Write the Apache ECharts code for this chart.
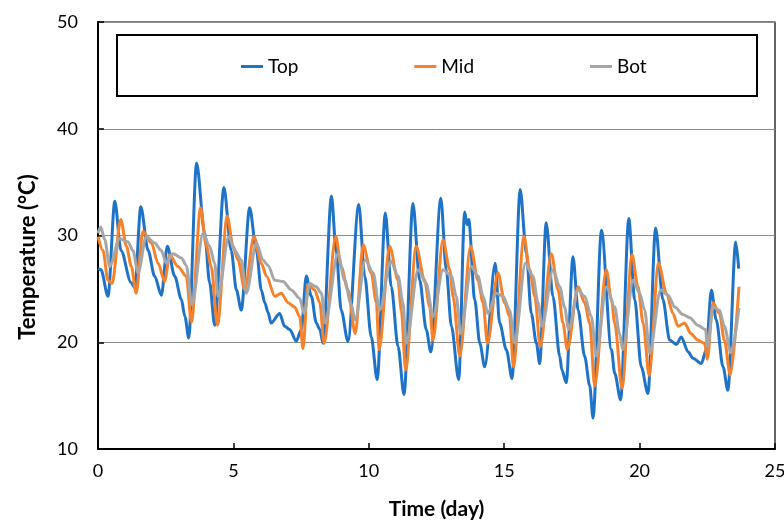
<!DOCTYPE html>
<html>
<head>
<meta charset="utf-8">
<script src="https://cdn.jsdelivr.net/npm/echarts@6/dist/echarts.min.js"></script>
<style>
html, body { margin: 0; padding: 0; background: #fff; }
#echa1 { width: 784px; height: 522px; }
</style>
</head>
<body>
<div id="echa1"></div>
<script>
// readings: time (day) and temperature (°C)
var topDay = [0, 0.11, 0.37, 0.62, 0.85, 1.22, 1.36, 1.58, 1.85, 2.09, 2.34, 2.56, 2.83, 3.08, 3.21, 3.35, 3.64, 3.94, 4.12, 4.31,
  4.65, 4.92, 5.11, 5.29, 5.6, 5.85, 6.03, 6.16, 6.28, 6.39, 6.71, 6.89, 7.08, 7.32, 7.51, 7.69, 7.88, 8.06, 8.19, 8.31,
  8.62, 8.8, 8.98, 9.23, 9.63, 9.85, 10.09, 10.31, 10.61, 10.83, 11.08, 11.3, 11.63, 11.88, 12.12, 12.29, 12.66, 12.86, 13.05, 13.32,
  13.54, 13.63, 13.69, 13.91, 14.1, 14.28, 14.67, 14.83, 15.08, 15.29, 15.59, 15.82, 16.0, 16.19, 16.31, 16.55, 16.8, 17.05, 17.13, 17.29,
  17.54, 17.73, 17.97, 18.16, 18.28, 18.59, 18.96, 19.08, 19.3, 19.6, 19.82, 20.06, 20.31, 20.59, 20.86, 21.11, 21.36, 21.54, 21.79, 21.97,
  22.28, 22.46, 22.65, 22.83, 23.08, 23.26, 23.55, 23.66];
var topTemp = [26.9, 26.8, 24.3, 33.2, 28.6, 25.6, 25.1, 32.7, 28.6, 26.2, 24.4, 29.0, 26.2, 24.0, 22.4, 20.4, 36.8, 30.2, 25.6, 21.6,
  34.5, 28.6, 24.9, 23.0, 32.6, 28.6, 24.9, 23.7, 22.8, 21.8, 22.7, 21.5, 21.2, 20.1, 21.2, 26.2, 24.3, 21.8, 21.2, 19.9,
  33.7, 28.4, 23.0, 20.1, 32.9, 26.2, 20.5, 16.5, 32.1, 25.2, 19.6, 15.1, 33.0, 25.8, 21.2, 19.1, 33.5, 26.8, 21.5, 16.5,
  32.2, 31.0, 31.5, 24.0, 19.9, 17.7, 27.4, 21.8, 19.3, 16.6, 34.3, 28.3, 22.7, 19.9, 18.0, 31.2, 24.3, 18.7, 17.4, 16.2,
  28.0, 23.0, 18.7, 15.9, 12.9, 30.5, 19.3, 17.1, 14.6, 31.6, 24.0, 17.7, 15.2, 30.7, 24.0, 20.2, 19.8, 20.5, 19.1, 18.5,
  18.0, 19.3, 24.9, 22.1, 17.7, 15.5, 29.4, 26.9];

var midDay = [0, 0.18, 0.37, 0.52, 0.84, 1.05, 1.23, 1.41, 1.66, 1.97, 2.22, 2.46, 2.65, 2.95, 3.26, 3.45, 3.79, 4.0, 4.18, 4.41,
  4.77, 4.99, 5.17, 5.42, 5.76, 6.03, 6.22, 6.53, 6.77, 7.02, 7.26, 7.45, 7.57, 7.75, 8.0, 8.19, 8.35, 8.78, 8.98, 9.23,
  9.5, 9.79, 10.09, 10.28, 10.38, 10.77, 11.08, 11.2, 11.36, 11.75, 12.06, 12.25, 12.37, 12.74, 12.99, 13.11, 13.36, 13.76, 14.03, 14.22,
  14.38, 14.77, 15.02, 15.2, 15.34, 15.73, 15.94, 16.13, 16.33, 16.74, 16.99, 17.17, 17.33, 17.73, 17.97, 18.16, 18.34, 18.77, 18.96, 19.08,
  19.35, 19.72, 19.94, 20.13, 20.35, 20.7, 20.99, 21.23, 21.42, 21.66, 21.9, 22.15, 22.4, 22.5, 22.71, 22.95, 23.13, 23.35, 23.67];
var midTemp = [29.9, 28.6, 25.8, 25.5, 31.5, 29.0, 27.1, 24.6, 30.4, 29.3, 27.4, 25.7, 28.2, 27.1, 26.2, 21.9, 32.6, 29.0, 27.1, 21.6,
  31.8, 29.0, 27.7, 24.9, 29.9, 27.4, 26.2, 24.3, 24.6, 23.7, 23.3, 22.4, 19.4, 25.4, 24.9, 23.7, 19.9, 29.9, 27.1, 24.9,
  20.8, 29.1, 26.5, 23.7, 19.3, 29.0, 25.8, 23.0, 17.4, 29.0, 25.8, 23.3, 20.2, 29.6, 26.8, 24.3, 18.7, 29.0, 25.8, 23.7,
  19.9, 26.5, 23.7, 22.4, 17.7, 29.9, 26.8, 24.3, 19.6, 28.3, 24.9, 21.8, 19.3, 25.2, 23.7, 21.8, 15.9, 26.8, 24.0, 21.8,
  15.7, 28.2, 25.2, 21.8, 16.9, 27.4, 24.6, 22.7, 21.5, 21.8, 20.8, 20.2, 19.9, 18.4, 23.7, 22.7, 20.2, 16.9, 25.2];

var botDay = [0, 0.1, 0.25, 0.43, 0.8, 1.11, 1.29, 1.48, 1.78, 2.09, 2.34, 2.52, 2.77, 3.08, 3.26, 3.47, 3.88, 4.12, 4.31, 4.43,
  4.83, 5.05, 5.29, 5.48, 5.85, 6.09, 6.28, 6.53, 6.83, 7.14, 7.45, 7.61, 7.82, 8.06, 8.25, 8.39, 8.86, 9.11, 9.33, 9.5,
  9.87, 10.16, 10.4, 10.81, 11.08, 11.26, 11.38, 11.82, 12.12, 12.37, 12.74, 13.05, 13.23, 13.39, 13.79, 14.03, 14.22, 14.4, 14.71, 14.96,
  15.2, 15.39, 15.78, 16.06, 16.25, 16.4, 16.8, 17.05, 17.23, 17.38, 17.73, 17.97, 18.22, 18.4, 18.77, 19.08, 19.26, 19.38, 19.76, 20.0,
  20.19, 20.37, 20.78, 21.05, 21.3, 21.6, 21.85, 22.15, 22.43, 22.51, 22.71, 22.95, 23.13, 23.37, 23.67];
var botTemp = [30.2, 30.8, 29.6, 27.1, 29.7, 29.4, 28.6, 26.5, 29.9, 29.3, 28.6, 27.4, 28.3, 27.9, 27.2, 23.5, 30.2, 29.0, 27.4, 24.3,
  29.9, 28.6, 27.7, 24.6, 29.3, 27.7, 27.2, 25.8, 25.7, 24.9, 24.1, 22.7, 25.5, 25.2, 24.6, 21.8, 28.3, 25.8, 23.7, 22.1,
  27.7, 26.5, 23.0, 27.6, 26.2, 23.7, 19.9, 26.8, 25.5, 22.4, 26.8, 26.2, 24.3, 20.8, 27.1, 26.2, 24.3, 22.7, 24.6, 24.3,
  23.0, 19.9, 27.4, 26.2, 23.7, 21.5, 26.8, 25.2, 23.3, 21.2, 24.9, 24.3, 22.4, 18.7, 25.2, 23.3, 20.8, 19.3, 25.8, 24.6,
  23.0, 19.0, 24.9, 24.4, 23.3, 22.6, 22.3, 21.6, 21.2, 19.6, 23.3, 23.0, 21.5, 19.0, 23.2];

var xTicks = [0, 5, 10, 15, 20, 25];
var yTicks = [10, 20, 30, 40, 50];

function pairs(days, temps) {
  return days.map(function (d, i) { return [d, temps[i]]; });
}

var dom = document.getElementById("echa1");
var myChart = echarts.init(dom);
var font = 'Lato, "Open Sans", sans-serif';

function lineSeries(name, color, days, temps) {
  return {
    name: name,
    type: 'line',
    showSymbol: false,
    smooth: 0.3,
    smoothMonotone: 'x',
    lineStyle: { color: color, width: 3 },
    itemStyle: { color: color },
    data: pairs(days, temps)
  };
}

var option = {
  animation: false,
  backgroundColor: '#fff',
  grid: {
    left: 98, right: 9, top: 22, bottom: 73,
    outerBoundsMode: 'none', containLabel: false,
    show: true, borderColor: '#000', borderWidth: 1.2
  },
  legend: {
    left: 236, top: 52,
    icon: 'rect', itemWidth: 22, itemHeight: 3, itemGap: 116,
    textStyle: { fontFamily: font, fontSize: 19, color: '#000' },
    data: ['Top', 'Mid', 'Bot']
  },
  graphic: [{
    type: 'rect',
    shape: { x: 117, y: 35, width: 640, height: 61 },
    style: { fill: 'rgba(0,0,0,0)', stroke: '#000', lineWidth: 2 },
    z: 10
  }, {
    type: 'text',
    x: 28, y: 257, rotation: Math.PI / 2,
    style: {
      text: 'Temperature (°C)', fontFamily: font, fontSize: 22, fontWeight: 'bold',
      fill: '#000', align: 'center', verticalAlign: 'middle'
    }
  }],
  xAxis: {
    type: 'value', min: xTicks[0], max: xTicks[xTicks.length - 1], interval: 5,
    name: 'Time (day)', nameLocation: 'middle', nameGap: 50,
    nameTextStyle: { fontFamily: font, fontSize: 21, fontWeight: 'bold', color: '#000' },
    axisLine: { lineStyle: { color: '#000', width: 2 } },
    axisTick: { inside: true, length: 6, lineStyle: { color: '#000', width: 1.5 } },
    axisLabel: { fontFamily: font, fontSize: 18, color: '#000', margin: 13 },
    splitLine: { show: false }
  },
  yAxis: {
    type: 'value', min: yTicks[0], max: yTicks[yTicks.length - 1], interval: 10,
    axisLine: { show: true, lineStyle: { color: '#000', width: 2 } },
    axisTick: { show: true, inside: true, length: 6, lineStyle: { color: '#000', width: 1.5 } },
    axisLabel: { fontFamily: font, fontSize: 18, color: '#000', margin: 20 },
    splitLine: { show: true, lineStyle: { color: '#8c8c8c', width: 1 } }
  },
  series: [
    lineSeries('Top', '#1f73c6', topDay, topTemp),
    lineSeries('Mid', '#f7812b', midDay, midTemp),
    lineSeries('Bot', '#a6a6a6', botDay, botTemp)
  ]
};

myChart.setOption(option);
</script>
</body>
</html>
